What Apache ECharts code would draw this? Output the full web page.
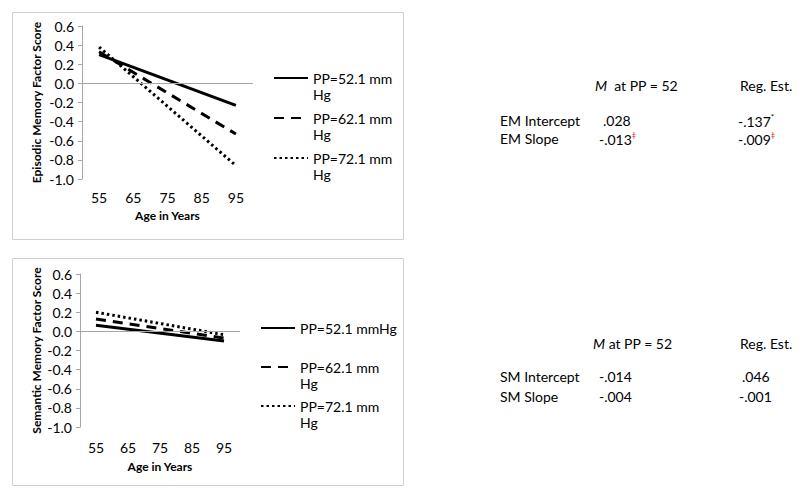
<!DOCTYPE html>
<html><head><meta charset="utf-8">
<script src="https://cdn.jsdelivr.net/npm/echarts@6/dist/echarts.min.js"></script>
<style>html,body{margin:0;padding:0;background:#fff}#c{width:800px;height:501px}</style>
</head><body><div id="c"></div>
<script>
// ---- data ----
var ages = ['55', '65', '75', '85', '95'];
var seriesNamesEM = ['PP=52.1 mm\nHg', 'PP=62.1 mm\nHg', 'PP=72.1 mm\nHg'];
var seriesNamesSM = ['PP=52.1 mmHg', 'PP=62.1 mm\nHg', 'PP=72.1 mm\nHg'];
// values at age 55 and 95 (lines are straight between them)
var em52 = [0.30, null, null, null, -0.23];
var em62 = [0.33, null, null, null, -0.53];
var em72 = [0.38, null, null, null, -0.86];
var sm52 = [0.065, null, null, null, -0.10];
var sm62 = [0.13, null, null, null, -0.07];
var sm72 = [0.20, null, null, null, -0.035];
var yMin = -1.0, yMax = 0.6, yStep = 0.2;

var F = 'Lato, "Open Sans", sans-serif';
var chart = echarts.init(document.getElementById('c'), null, {renderer: 'svg'});

var styles = [
  {type: 'solid', width: 3},
  {type: [10, 7], width: 3},
  {type: [2.5, 3], width: 3}
];
function mkSeries(name, data, idx, axis) {
  return {
    type: 'line', name: name, data: data, xAxisIndex: axis, yAxisIndex: axis,
    connectNulls: true, symbol: 'none', silent: true, animation: false,
    lineStyle: {color: '#000', width: styles[idx].width, type: styles[idx].type, cap: 'butt'},
    itemStyle: {color: '#000'},
    markLine: idx === 0 ? {silent: true, symbol: 'none', label: {show: false},
      lineStyle: {color: '#a6a6a6', width: 1, type: 'solid'}, data: [{yAxis: 0}]} : undefined
  };
}
function yAx(idx, name, gap) {
  return {type: 'value', gridIndex: idx, min: yMin, max: yMax, interval: yStep,
    name: name, nameLocation: 'middle', nameGap: gap, nameRotate: 90,
    nameTextStyle: {fontFamily: F, fontWeight: 'bold', fontSize: 12, color: '#000'},
    axisLine: {show: true, lineStyle: {color: '#a6a6a6'}},
    axisTick: {show: true, length: 4, lineStyle: {color: '#a6a6a6'}},
    splitLine: {show: false},
    axisLabel: {fontFamily: F, fontSize: 14, color: '#000', margin: 8,
      formatter: function (v) { return v.toFixed(1); }}
  };
}
function xAx(idx, margin, gap) {
  return {type: 'category', gridIndex: idx, data: ages, boundaryGap: true,
    name: 'Age in Years', nameLocation: 'middle', nameGap: gap,
    nameTextStyle: {fontFamily: F, fontWeight: 'bold', fontSize: 12, color: '#000'},
    axisLine: {show: false}, axisTick: {show: false}, splitLine: {show: false},
    axisLabel: {fontFamily: F, fontSize: 14, color: '#000', margin: margin}
  };
}
function legend(names, left, top, gap) {
  return {data: names, left: left, top: top, orient: 'vertical', itemGap: gap, padding: 0,
    itemWidth: 34, itemHeight: 12, selectedMode: false,
    itemStyle: {color: 'rgba(0,0,0,0)', borderWidth: 0, opacity: 0},
    formatter: function (n) { return '\n' + n + (n.indexOf('\n') < 0 ? '\n' : ''); },
    textStyle: {fontFamily: F, fontSize: 14, color: '#000', lineHeight: 16}};
}
var rich = {
  i: {fontFamily: F, fontSize: 14, fontStyle: 'italic', fill: '#000'},
  n: {fontFamily: F, fontSize: 14, fill: '#000'},
  s: {fontFamily: F, fontSize: 8, fill: '#000', padding: [0, 0, 8, 0]},
  r: {fontFamily: F, fontSize: 8, fill: '#e03030', padding: [0, 0, 8, 0]}
};
function t(x, y, s) {
  return {type: 'text', left: x, top: y - 9, silent: true,
    style: {text: s, rich: rich, font: '14px ' + F, fill: '#000'}};
}

var option = {
  backgroundColor: '#fff',
  animation: false,
  grid: [
    {left: 82, top: 26, width: 171, height: 153},
    {left: 80, top: 274, width: 160, height: 153}
  ],
  xAxis: [xAx(0, 11, 30), xAx(1, 13, 33)],
  yAxis: [yAx(0, 'Episodic Memory Factor Score', 40), yAx(1, 'Semantic Memory Factor Score', 38)],
  legend: [legend(seriesNamesEM, 273, 54, -8), legend(seriesNamesSM, 260, 304, -9)],
  series: [
    mkSeries(seriesNamesEM[0], em52, 0, 0),
    mkSeries(seriesNamesEM[1], em62, 1, 0),
    mkSeries(seriesNamesEM[2], em72, 2, 0),
    mkSeries(seriesNamesSM[0], sm52, 0, 1),
    mkSeries(seriesNamesSM[1], sm62, 1, 1),
    mkSeries(seriesNamesSM[2], sm72, 2, 1)
  ],
  graphic: [
    {type: 'rect', shape: {x: 12.5, y: 12.5, width: 391, height: 227}, silent: true, z: -1,
      style: {fill: 'none', stroke: '#d0d0d0', lineWidth: 1}},
    {type: 'rect', shape: {x: 12.5, y: 258.5, width: 391, height: 227}, silent: true, z: -1,
      style: {fill: 'none', stroke: '#d0d0d0', lineWidth: 1}},
    t(595, 87, '{i|M}{n|  at PP = 52}'),
    t(740, 87, 'Reg. Est.'),
    t(500, 122, 'EM Intercept'),
    t(603, 122, '.028'),
    t(738, 122, '{n|-.137}{s|*}'),
    t(500, 140, 'EM Slope'),
    t(599, 140, '{n|-.013}{r|ǂ}'),
    t(738, 140, '{n|-.009}{r|ǂ}'),
    t(593, 345, '{i|M}{n| at PP = 52}'),
    t(740, 345, 'Reg. Est.'),
    t(500, 378, 'SM Intercept'),
    t(599, 378, '-.014'),
    t(742, 378, '.046'),
    t(500, 398, 'SM Slope'),
    t(599, 398, '-.004'),
    t(739, 398, '-.001')
  ]
};
chart.setOption(option);
</script></body></html>
